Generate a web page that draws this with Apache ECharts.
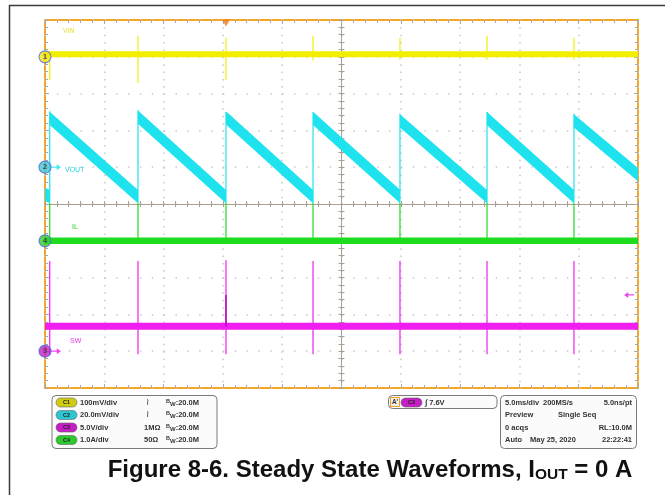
<!DOCTYPE html>
<html>
<head>
<meta charset="utf-8">
<script src="https://cdn.jsdelivr.net/npm/echarts@6/dist/echarts.min.js"></script>
<style>
html,body{margin:0;padding:0;background:#fff;}
#main{width:665px;height:495px;}
</style>
</head>
<body>
<div id="main"></div>
<script>
// ---- data (time in ms relative to screen centre, amplitude in divisions) ----
const spikeTimes   = [-24.6, -17.16, -9.74, -2.40, 4.93, 12.27, 19.60];
const voutStart    = [2.33, 2.36, 2.34, 2.33, 2.26, 2.32, 2.26];
const voutEnd      = [0.20, 0.20, 0.20, 0.21, 0.20, 0.20, 0.80];
const voutPre      = [0.26, 0.20];        // left edge -> first edge
const voutRiseLow  = [0.05, 0.03, 0.03, 0.03, 0.04, 0.03, 0.04];
const voutRiseHigh = [2.52, 2.55, 2.50, 2.50, 2.45, 2.50, 2.45];
const vinLevel = 4.07, ilLevel = -1.0, swLevel = -3.32;
const vinSpikeHigh = [4.15, 4.57, 4.52, 4.57, 4.52, 4.57, 4.52];
const vinSpikeLow  = [3.37, 3.29, 3.37, 3.90, 3.92, 3.92, 3.92];
const ilSpikeHigh  = [0.03, 0.03, 0.03, 0.03, 0.03, 0.03, 0.03];
const ilSpikeLow   = [-1.0, -1.0, -1.0, -1.0, -1.0, -1.0, -1.0];
const swSpikeHigh  = [-1.55, -1.55, -1.53, -1.55, -1.55, -1.55, -1.55];
const swSpikeLow   = [-4.08, -4.08, -4.08, -4.08, -4.08, -4.08, -4.08];
const swRunt       = [[-9.74, -2.47, -3.32]];
const chanMarks    = [[-25, 4, '1'], [-25, 1, '2'], [-25, -1, '4'], [-25, -4, '3']];
const trigLevel    = -2.47;
const trigTime     = -9.74;
const xRange = [-25, 25], yRange = [-5, 5];

// ---- build series data ----
const vinSp = spikeTimes.map((t, i) => [t, vinSpikeLow[i], vinSpikeHigh[i]]);
const ilSp  = spikeTimes.map((t, i) => [t, ilSpikeLow[i], ilSpikeHigh[i]]);
const swSp  = spikeTimes.map((t, i) => [t, swSpikeLow[i], swSpikeHigh[i]]);
const voutRise = spikeTimes.map((t, i) => [t, voutRiseLow[i], voutRiseHigh[i]]);
const ramps = [[xRange[0], voutPre[0], spikeTimes[0], voutPre[1]]];
spikeTimes.forEach((t, i) => {
  const tEnd = i + 1 < spikeTimes.length ? spikeTimes[i + 1] : xRange[1];
  ramps.push([t, voutStart[i], tEnd, voutEnd[i]]);
});

const COL = {vin:'#f2ee00', vout:'#1ee3ee', il:'#1edc1e', sw:'#f01ef0'};
const BAND_H = 0.18;

function vsegRenderer(color, width) {
  return function (params, api) {
    const a = api.coord([api.value(0), api.value(1)]);
    const b = api.coord([api.value(0), api.value(2)]);
    return {type:'line', shape:{x1:a[0], y1:a[1], x2:b[0], y2:b[1]},
            style:{stroke:color, lineWidth:width}};
  };
}
function rampRenderer(params, api) {
  const t0 = api.value(0), y0 = api.value(1), t1 = api.value(2), y1 = api.value(3);
  const pts = [[t0, y0 + BAND_H], [t1, y1 + BAND_H], [t1, y1 - BAND_H], [t0, y0 - BAND_H]].map(p => api.coord(p));
  return {type:'polygon', shape:{points:pts}, style:{fill:COL.vout}};
}

const tickCol = '#a8a8a8';
function edgeX(pos) {
  return {type:'value', min:xRange[0], max:xRange[1], interval:5, position:pos,
    axisLine:{show:false, onZero:false}, axisLabel:{show:false},
    axisTick:{show:true, inside:true, length:4, lineStyle:{color:tickCol}},
    minorTick:{show:true, splitNumber:5, length:3, lineStyle:{color:tickCol}},
    splitLine:{show:false}};
}
function edgeY(pos) {
  return {type:'value', min:yRange[0], max:yRange[1], interval:1, position:pos,
    axisLine:{show:false, onZero:false}, axisLabel:{show:false},
    axisTick:{show:true, inside:true, length:4, lineStyle:{color:tickCol}},
    minorTick:{show:true, splitNumber:5, length:3, lineStyle:{color:tickCol}},
    splitLine:{show:false}};
}
const crossCol = '#ab9f93';

const chart = echarts.init(document.getElementById('main'), null, {renderer:'canvas'});
const FONT = 'Arial, "Liberation Sans", sans-serif';

const option = {
  animation:false,
  backgroundColor:'#ffffff',
  grid:{left:45, top:20, width:593, height:368, show:true, borderColor:'#f5a623', borderWidth:2, backgroundColor:'#ffffff', z:0},
  xAxis:[
    {type:'value', min:xRange[0], max:xRange[1], interval:5, position:'bottom',
     axisLine:{show:true, onZero:true, lineStyle:{color:crossCol, width:1}}, axisLabel:{show:false},
     axisTick:{show:true, inside:false, length:3, lineStyle:{color:crossCol}},
     minorTick:{show:true, splitNumber:5, length:3, lineStyle:{color:crossCol}},
     splitLine:{show:true, lineStyle:{color:'#c8c8c8', width:1.5, type:[1.5, 5.86]}}},
    {type:'value', min:xRange[0], max:xRange[1], interval:5, position:'bottom',
     axisLine:{show:false, onZero:true}, axisLabel:{show:false},
     axisTick:{show:true, inside:true, length:3, lineStyle:{color:crossCol}},
     minorTick:{show:true, splitNumber:5, length:3, lineStyle:{color:crossCol}},
     splitLine:{show:false}},
    edgeX('top'), edgeX('bottom')
  ],
  yAxis:[
    {type:'value', min:yRange[0], max:yRange[1], interval:1, position:'left',
     axisLine:{show:true, onZero:true, lineStyle:{color:crossCol, width:1}}, axisLabel:{show:false},
     axisTick:{show:true, inside:false, length:3, lineStyle:{color:crossCol}},
     minorTick:{show:true, splitNumber:5, length:3, lineStyle:{color:crossCol}},
     splitLine:{show:true, lineStyle:{color:'#c8c8c8', width:1.5, type:[1.5, 10.36]}}},
    {type:'value', min:yRange[0], max:yRange[1], interval:1, position:'left',
     axisLine:{show:false, onZero:true}, axisLabel:{show:false},
     axisTick:{show:true, inside:true, length:3, lineStyle:{color:crossCol}},
     minorTick:{show:true, splitNumber:5, length:3, lineStyle:{color:crossCol}},
     splitLine:{show:false}},
    edgeY('left'), edgeY('right')
  ],
  series:[
    {name:'VIN', type:'line', data:[[xRange[0], vinLevel], [xRange[1], vinLevel]], symbol:'none',
     lineStyle:{color:COL.vin, width:6}, z:3},
    {name:'VIN spikes', type:'custom', data:vinSp, renderItem:vsegRenderer(COL.vin, 1.2), z:3},
    {name:'IL', type:'line', data:[[xRange[0], ilLevel], [xRange[1], ilLevel]], symbol:'none',
     lineStyle:{color:COL.il, width:6.5}, z:3},
    {name:'IL spikes', type:'custom', data:ilSp, renderItem:vsegRenderer(COL.il, 1.2), z:3},
    {name:'SW', type:'line', data:[[xRange[0], swLevel], [xRange[1], swLevel]], symbol:'none',
     lineStyle:{color:COL.sw, width:7}, z:3},
    {name:'SW spikes', type:'custom', data:swSp, renderItem:vsegRenderer(COL.sw, 1.2), z:3},
    {name:'SW runt', type:'custom', data:swRunt, renderItem:vsegRenderer('#b000b0', 1.4), z:4},
    {name:'VOUT', type:'custom', data:ramps, renderItem:rampRenderer, z:4},
    {name:'VOUT edges', type:'custom', data:voutRise, renderItem:vsegRenderer(COL.vout, 1.2), z:4},
    {name:'markers', type:'scatter', data:chanMarks, clip:false, symbol:'circle', symbolSize:12, z:10,
     itemStyle:{color:(p) => ['#f6e41a', '#44c8d8', '#2ed02e', '#c81ec8'][p.dataIndex],
                borderColor:(p) => ['#f0a020', '#8a8a8a', '#8a8a8a', '#8a8a8a'][p.dataIndex], borderWidth:1.2},
     label:{show:true, position:'inside', formatter:(p) => p.value[2], fontSize:8, fontWeight:'bold', color:'#333', fontFamily:FONT}},
    {name:'marker arrows', type:'scatter', clip:false, z:9,
     data:[[xRange[0], chanMarks[1][1]], [xRange[0], chanMarks[3][1]]],
     symbol:'path://M0,4 L8,4 L8,0 L14,5 L8,10 L8,6 L0,6 Z', symbolSize:[10, 6], symbolOffset:[11, 0],
     itemStyle:{color:(p) => [COL.vout, COL.sw][p.dataIndex]}},
    {name:'trigger level', type:'scatter', clip:false, z:9,
     data:[[xRange[1], trigLevel]],
     symbol:'path://M0,5 L6,0 L6,4 L14,4 L14,6 L6,6 L6,10 Z', symbolSize:[10, 6], symbolOffset:[-9, 0],
     itemStyle:{color:'#e020e0'}},
    {name:'trigger pos', type:'scatter', clip:false, z:9,
     data:[[trigTime, yRange[1]]],
     symbol:'triangle', symbolRotate:180, symbolSize:[8, 7], symbolOffset:[0, 3],
     itemStyle:{color:'#f07818'}}
  ],
  graphic:[]
};

// ---- static decoration (frame, channel labels, info panel, caption) ----
const g = [];
g.push({type:'line', shape:{x1:9, y1:5.5, x2:665, y2:5.5}, style:{stroke:'#3a3a3a', lineWidth:1.5}, silent:true});
g.push({type:'line', shape:{x1:9.5, y1:5, x2:9.5, y2:495}, style:{stroke:'#3a3a3a', lineWidth:1.5}, silent:true});
function txt(x, y, s, opt) {
  g.push({type:'text', x:x, y:y, z:100, silent:true,
    style:Object.assign({text:s, fontFamily:FONT, fontSize:7.5, fontWeight:'bold', fill:'#333', textVerticalAlign:'middle'}, opt || {})});
}
txt(63, 31, 'VIN', {fill:'#e6dc2a', fontWeight:'normal', fontSize:7});
txt(65, 170, 'VOUT', {fill:'#26d6e6', fontWeight:'normal', fontSize:7});
txt(72, 227, 'IL', {fill:'#2ad42a', fontWeight:'normal', fontSize:7});
txt(70, 341, 'SW', {fill:'#e63ae6', fontWeight:'normal', fontSize:7});

// info boxes
function box(x, y, w, h) {
  g.push({type:'rect', shape:{x:x, y:y, width:w, height:h, r:4}, z:90, silent:true,
    style:{fill:'#fbfbfb', stroke:'#7a7a7a', lineWidth:1}});
}
box(52, 395.5, 165, 53);
box(388.5, 395.5, 108.5, 13);
box(500.5, 395.5, 136, 53);

function badge(x, y, label, color) {
  g.push({type:'rect', shape:{x:x, y:y - 4.5, width:21, height:9, r:4.5}, z:95, silent:true,
    style:{fill:color, stroke:'#666', lineWidth:0.6}});
  g.push({type:'text', x:x + 10.5, y:y, z:96, silent:true,
    style:{text:label, fontFamily:FONT, fontSize:5.5, fontWeight:'bold', fill:'#222', textAlign:'center', textVerticalAlign:'middle'}});
}
const rowsY = [402.5, 415, 427.5, 440];
const chanRows = [
  ['C1', '#d2cc10', '100mV/div', '\u2240', ''],
  ['C2', '#2cc6d2', '20.0mV/div', '\u2240', ''],
  ['C3', '#c41ec4', '5.0V/div', '', '1M\u03A9'],
  ['C4', '#2cc82c', '1.0A/div', '', '50\u03A9']
];
chanRows.forEach((r, i) => {
  const y = rowsY[i];
  badge(56, y, r[0], r[1]);
  txt(80, y, r[2]);
  if (r[3]) txt(146, y, r[3], {fontWeight:'normal', fontSize:9, fontFamily:'"DejaVu Sans", sans-serif'});
  if (r[4]) txt(144, y, r[4]);
  g.push({type:'text', x:166, y:y, z:100, silent:true,
    style:{text:'{s|B}{w|W}:20.0M', fontFamily:FONT, fontSize:7.5, fontWeight:'bold', fill:'#333', textVerticalAlign:'middle',
      rich:{s:{fontSize:5.5, fontWeight:'bold', fill:'#333', fontFamily:FONT, padding:[0,0,3,0]},
            w:{fontSize:6, fontWeight:'bold', fill:'#333', fontFamily:FONT, padding:[3,0,0,0]}}}});
});
// trigger box
g.push({type:'rect', shape:{x:390.5, y:397.5, width:9, height:9}, z:95, silent:true, style:{fill:'#eee', stroke:'#f0a020', lineWidth:1}});
txt(395, 402.5, "A'", {textAlign:'center', fontSize:6.5});
badge(401, 402.5, 'C3', '#c41ec4');
txt(425, 402.5, '\u222B 7.6V', {fontSize:7.5});
// acquisition box
txt(505, rowsY[0], '5.0ms/div');
txt(543, rowsY[0], '200MS/s');
txt(632, rowsY[0], '5.0ns/pt', {textAlign:'right'});
txt(505, rowsY[1], 'Preview');
txt(558, rowsY[1], 'Single Seq');
txt(505, rowsY[2], '0 acqs');
txt(632, rowsY[2], 'RL:10.0M', {textAlign:'right'});
txt(505, rowsY[3], 'Auto');
txt(530, rowsY[3], 'May 25, 2020');
txt(632, rowsY[3], '22:22:41', {textAlign:'right'});

// caption
g.push({type:'text', x:370, y:470, z:100, silent:true,
  style:{text:'Figure 8-6. Steady State Waveforms, I{sub|OUT} = 0 A', fontFamily:FONT, fontSize:24, fontWeight:'bold', fill:'#111',
    textAlign:'center', textVerticalAlign:'middle',
    rich:{sub:{fontSize:15.5, fontWeight:'bold', fontFamily:FONT, fill:'#111', padding:[10,0,0,0]}}}});

option.graphic = g;
chart.setOption(option);
</script>
</body>
</html>
